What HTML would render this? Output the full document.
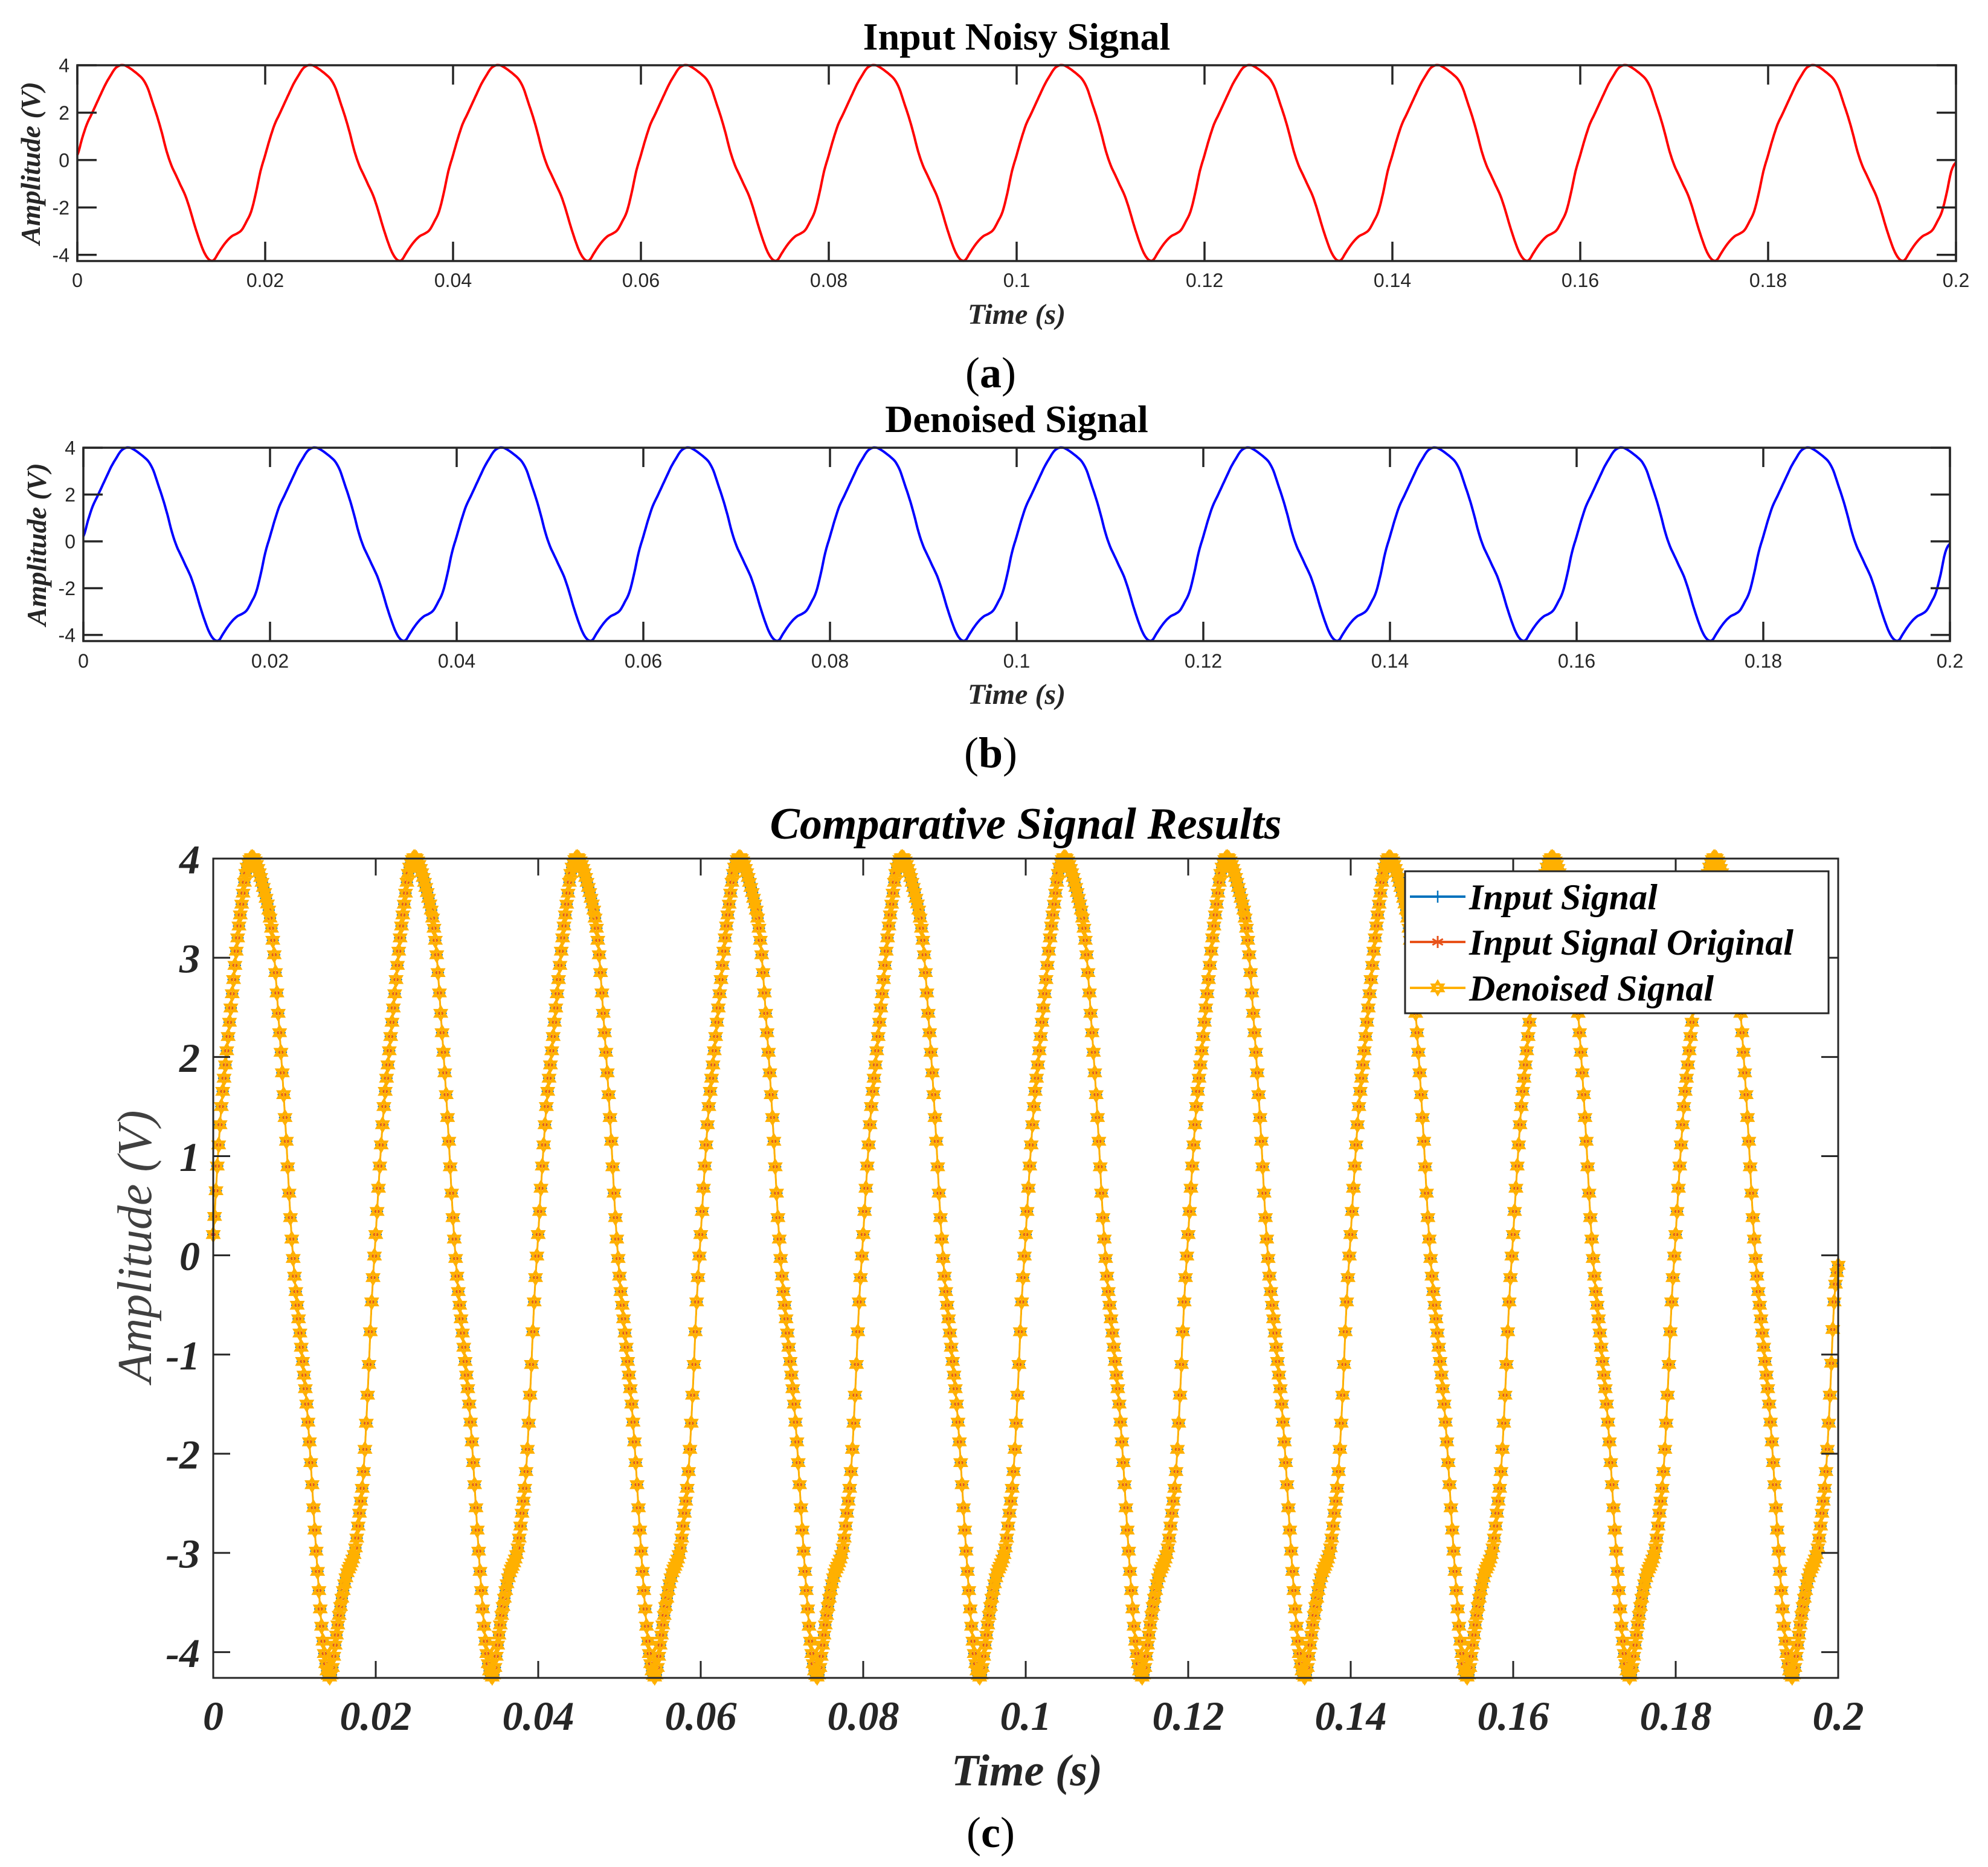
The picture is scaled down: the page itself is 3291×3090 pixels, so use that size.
<!DOCTYPE html>
<html>
<head>
<meta charset="utf-8">
<style>
  html,body{margin:0;padding:0;background:#fff;}
  svg{display:block;}
  .serif{font-family:"Liberation Serif",serif;}
  .sans{font-family:"Liberation Sans",sans-serif;}
</style>
</head>
<body>
<svg id="fig" width="3291" height="3090" viewBox="0 0 3291 3090" xmlns="http://www.w3.org/2000/svg">
  <defs>
    <marker id="m-plus" markerUnits="userSpaceOnUse" markerWidth="30" markerHeight="30" refX="15" refY="15" overflow="visible">
      <path d="M15 5 V25 M5 15 H25" stroke="#0072BD" stroke-width="2.5" fill="none"/>
    </marker>
    <marker id="m-ast" markerUnits="userSpaceOnUse" markerWidth="30" markerHeight="30" refX="15" refY="15" overflow="visible">
      <path d="M15 5 V25 M6.3 10 L23.7 20 M6.3 20 L23.7 10" stroke="#E8521A" stroke-width="3" fill="none"/>
    </marker>
    <marker id="m-hex" markerUnits="userSpaceOnUse" markerWidth="30" markerHeight="30" refX="15" refY="15" overflow="visible">
      <path d="M15 4 L24.5 20.5 L5.5 20.5 Z M15 26 L24.5 9.5 L5.5 9.5 Z" stroke="#FFB000" stroke-width="3.5" fill="none"/>
    </marker>
  </defs>
  <g id="layer"></g>
</svg>
<script>
// ---- data ----
// one 20 ms cycle sampled every 0.5 ms
const noisyCycle = [0.21,0.9,1.5,1.92,2.35,2.78,3.2,3.54,3.85,3.99,4.0,3.9,3.76,3.6,3.4,3.03,2.44,1.84,1.15,0.38,
  -0.21,-0.64,-1.07,-1.5,-2.09,-2.77,-3.38,-3.89,-4.19,-4.23,-3.93,-3.63,-3.38,-3.2,-3.1,-2.95,-2.6,-2.18,-1.41,-0.47];
const denoisedCycle = [0.21,0.9,1.5,1.92,2.35,2.78,3.2,3.54,3.85,3.99,4.0,3.9,3.76,3.6,3.4,3.03,2.44,1.84,1.15,0.38,
  -0.21,-0.64,-1.07,-1.5,-2.09,-2.77,-3.38,-3.89,-4.19,-4.23,-3.93,-3.63,-3.38,-3.2,-3.1,-2.95,-2.6,-2.18,-1.41,-0.47];
const sampleStep = 0.0005;
const cycleCount = 10;
const finalValue = -0.1;
const xTickValues = [0,0.02,0.04,0.06,0.08,0.1,0.12,0.14,0.16,0.18,0.2];
const xTickLabels = ["0","0.02","0.04","0.06","0.08","0.1","0.12","0.14","0.16","0.18","0.2"];
const yTicksSmall = [-4,-2,0,2,4];
const yTicksLarge = [-4,-3,-2,-1,0,1,2,3,4];
const legendLabels = ["Input Signal","Input Signal Original","Denoised Signal"];

const NS = "http://www.w3.org/2000/svg";
const layer = document.getElementById("layer");
function mk(tag, attrs, parent, text){
  const e = document.createElementNS(NS, tag);
  for (const k in attrs) e.setAttribute(k, attrs[k]);
  if (text !== undefined) e.textContent = text;
  (parent || layer).appendChild(e);
  return e;
}
function buildSeries(cycle){
  const t=[], v=[];
  const n = cycle.length*cycleCount;
  for(let i=0;i<n;i++){ t.push(i*sampleStep); v.push(cycle[i%cycle.length]); }
  t.push(n*sampleStep); v.push(finalValue);
  return {t, v};
}
function smooth(s, sub){
  const t=[], v=[]; const n=s.t.length;
  for(let i=0;i<n-1;i++){
    const p0=s.v[Math.max(0,i-1)], p1=s.v[i], p2=s.v[i+1], p3=s.v[Math.min(n-1,i+2)];
    for(let k=0;k<sub;k++){
      const u=k/sub;
      const val=0.5*((2*p1)+(-p0+p2)*u+(2*p0-5*p1+4*p2-p3)*u*u+(-p0+3*p1-3*p2+p3)*u*u*u);
      t.push(s.t[i]+(s.t[i+1]-s.t[i])*u); v.push(val);
    }
  }
  t.push(s.t[n-1]); v.push(s.v[n-1]);
  return {t, v};
}
const noisy = buildSeries(noisyCycle);
const denoised = buildSeries(denoisedCycle);

function panel(cfg){
  const g = mk("g", {});
  
  
  const X = t => cfg.L + (t-0)/(0.2-0)*(cfg.R-cfg.L);
  const Y = v => cfg.B - (v-cfg.ymin)/(4-cfg.ymin)*(cfg.B-cfg.T);
  cfg.series.forEach(s=>{
    const sm = smooth(s.data, s.sub);
    let pts = "";
    for(let i=0;i<sm.t.length;i++) pts += X(sm.t[i]).toFixed(1)+","+Y(sm.v[i]).toFixed(1)+" ";
    const attrs = {points:pts, fill:"none", stroke:s.color, "stroke-width":s.width, "stroke-linejoin":"round"};
    if(s.marker){ attrs["marker-start"]="url(#"+s.marker+")"; attrs["marker-mid"]="url(#"+s.marker+")"; attrs["marker-end"]="url(#"+s.marker+")"; }
    const pl = mk("polyline", attrs, g);
    
    
  });
  const box = mk("rect", {x:cfg.L, y:cfg.T, width:cfg.R-cfg.L, height:cfg.B-cfg.T, fill:"none", stroke:"#262626", "stroke-width":cfg.aw}, g);
  
  
  xTickValues.forEach((tv,i)=>{
    const x = X(tv);
    mk("line",{x1:x,y1:cfg.B,x2:x,y2:cfg.B-cfg.tl,stroke:"#262626","stroke-width":cfg.aw},g);
    mk("line",{x1:x,y1:cfg.T,x2:x,y2:cfg.T+cfg.tl,stroke:"#262626","stroke-width":cfg.aw},g);
    const tx = mk("text",{x:x,y:cfg.B+cfg.xlo,"text-anchor":"middle","font-size":cfg.tfs,fill:"#262626",class:cfg.tclass,"font-style":cfg.tstyle,"font-weight":cfg.tweight},g,xTickLabels[i]);
    
    
  });
  cfg.yticks.forEach(yv=>{
    const y = Y(yv);
    mk("line",{x1:cfg.L,y1:y,x2:cfg.L+cfg.tl,y2:y,stroke:"#262626","stroke-width":cfg.aw},g);
    mk("line",{x1:cfg.R,y1:y,x2:cfg.R-cfg.tl,y2:y,stroke:"#262626","stroke-width":cfg.aw},g);
    const ty = mk("text",{x:cfg.L-cfg.ylo,y:y+cfg.tfs*0.36,"text-anchor":"end","font-size":cfg.tfs,fill:"#262626",class:cfg.tclass,"font-style":cfg.tstyle,"font-weight":cfg.tweight},g,String(yv));
    
    
  });
  return g;
}

panel({name:"panel-a-noisy", L:128,R:3238,T:108,B:432,ymin:-4.26,aw:3.5,tl:32,tfs:32,tclass:"sans",tstyle:"normal",tweight:"normal",xlo:43,ylo:13,yticks:yTicksSmall,
  series:[{name:"noisy-signal-line",data:noisy,color:"#FF0000",width:4,sub:4}]});
panel({name:"panel-b-denoised", L:138,R:3228,T:741,B:1061,ymin:-4.26,aw:3.5,tl:32,tfs:32,tclass:"sans",tstyle:"normal",tweight:"normal",xlo:44,ylo:13,yticks:yTicksSmall,
  series:[{name:"denoised-signal-line",data:denoised,color:"#0000FF",width:4,sub:4}]});
panel({name:"panel-c-comparison", L:353,R:3043,T:1421,B:2777,ymin:-4.26,aw:3,tl:28,tfs:68,tclass:"serif",tstyle:"italic",tweight:"bold",xlo:86,ylo:22,yticks:yTicksLarge,
  series:[
    {name:"input-signal-line",data:noisy,color:"#0072BD",width:2.5,sub:3,marker:"m-plus"},
    {name:"input-signal-original-line",data:noisy,color:"#E8521A",width:2.5,sub:3,marker:"m-ast"},
    {name:"denoised-signal-comparison-line",data:denoised,color:"#FFB000",width:3,sub:3,marker:"m-hex"}
  ]});

function label(txt, x, y, size, style, weight, name, rot, color){
  const a = {x:x,y:y,"text-anchor":"middle","font-size":size,"font-style":style,"font-weight":weight,class:"serif",fill:color||"#000"};
  if(rot) a.transform = "rotate(-90 "+x+" "+y+")";
  const e = mk("text", a, layer, txt);
  
  
  return e;
}
label("Input Noisy Signal",1683,82,64,"normal","bold","title-a");
label("Time (s)",1683,536,48,"italic","bold","x-axis-title-a",false,"#262626");
label("Amplitude (V)",66,270,46,"italic","bold","y-axis-title-a",true,"#262626");
const ca = label("",1640,641,72,"normal","normal","caption-a");
ca.innerHTML = '(<tspan font-weight="bold">a</tspan>)';
label("Denoised Signal",1683,715,64,"normal","bold","title-b");
label("Time (s)",1683,1165,48,"italic","bold","x-axis-title-b",false,"#262626");
label("Amplitude (V)",76,901,46,"italic","bold","y-axis-title-b",true,"#262626");
const cb = label("",1640,1270,72,"normal","normal","caption-b");
cb.innerHTML = '(<tspan font-weight="bold">b</tspan>)';
label("Comparative Signal Results",1698,1388,74,"italic","bold","title-c");
label("Time (s)",1700,2955,74,"italic","bold","x-axis-title-c",false,"#262626");
label("Amplitude (V)",250,2063,80,"italic","normal","y-axis-title-c",true,"#404040");
const cc = label("",1640,3057,72,"normal","normal","caption-c");
cc.innerHTML = '(<tspan font-weight="bold">c</tspan>)';

const lg = mk("g",{});


mk("rect",{x:2326,y:1442,width:701,height:235,fill:"#fff",stroke:"#262626","stroke-width":3},lg);
const legendColors = ["#0072BD","#E8521A","#FFB000"];
const legendMarkers = ["m-plus","m-ast","m-hex"];
const legendRowY = [1484,1559,1635];
legendLabels.forEach((lab,i)=>{
  const ln = mk("polyline",{points:"2334,"+legendRowY[i]+" 2380,"+legendRowY[i]+" 2426,"+legendRowY[i],stroke:legendColors[i],"stroke-width":4,fill:"none","marker-mid":"url(#"+legendMarkers[i]+")"},lg);
  
  
  const t = mk("text",{x:2432,y:legendRowY[i]+21,"font-size":60,"font-style":"italic","font-weight":"bold",class:"serif",fill:"#000"},lg,lab);
  
  
});
</script>
</body>
</html>
